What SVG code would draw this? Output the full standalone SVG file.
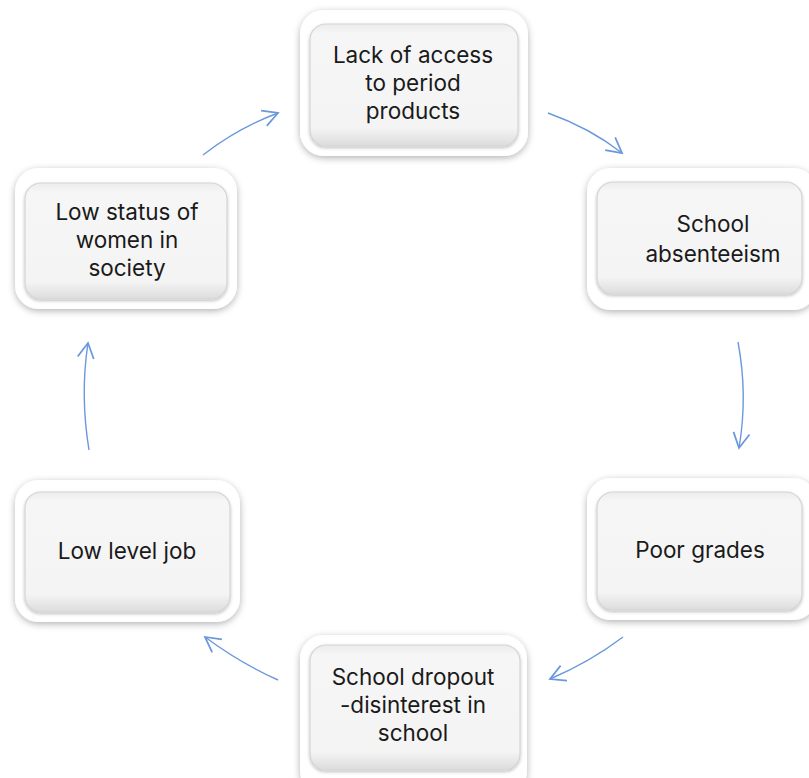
<svg xmlns="http://www.w3.org/2000/svg" width="809" height="778" viewBox="0 0 809 778">
<defs>
<style>
.outer{fill:#ffffff;filter:url(#sh);}
.inner{fill:url(#ig);stroke:#d4d4d4;stroke-width:1.2;filter:url(#ish);}
.t{font-family:Inter,"Open Sans",sans-serif;font-size:22.5px;fill:#1a1a1a;text-anchor:middle;}
.c{fill:none;stroke:#6a98dc;stroke-width:1.4;marker-end:url(#ah);}
</style>
<filter id="sh" x="-10%" y="-10%" width="120%" height="125%">
<feDropShadow dx="0" dy="2" stdDeviation="3.5" flood-color="#000" flood-opacity="0.3"/>
</filter>
<filter id="ish" x="-5%" y="-5%" width="110%" height="115%">
<feDropShadow dx="0" dy="1.5" stdDeviation="1.5" flood-color="#000" flood-opacity="0.25"/>
</filter>
<linearGradient id="ig" x1="0" y1="0" x2="0" y2="1">
<stop offset="0" stop-color="#ececec"/>
<stop offset="0.08" stop-color="#f6f6f6"/>
<stop offset="0.85" stop-color="#f4f4f4"/>
<stop offset="1" stop-color="#dcdcdc"/>
</linearGradient>
<marker id="ah" markerUnits="userSpaceOnUse" markerWidth="20" markerHeight="20" viewBox="-14 -8 16 16" refX="0" refY="0" orient="auto">
<path d="M-12,-6.5 L0,0 L-12,6.5" fill="none" stroke="#6a98dc" stroke-width="1.4"/>
</marker>
</defs>
<g id="connectors">
<path class="c" d="M203,155 Q238,128 278,113"/>
<path class="c" d="M548,113 Q590,128 622,153"/>
<path class="c" d="M738,342 Q748,395 739,448"/>
<path class="c" d="M623,637 Q590,662 550,679"/>
<path class="c" d="M278,680 Q240,663 205,637"/>
<path class="c" d="M89,450 Q80,395 88,343"/>
</g>
<g id="n1">
<rect class="outer" x="300" y="10" width="228" height="146" rx="24"/>
<rect class="inner" x="310" y="24" width="208" height="122" rx="16"/>
<text class="t" x="413" y="63">Lack of access</text>
<text class="t" x="413" y="91">to period</text>
<text class="t" x="413" y="119">products</text>
</g>
<g id="n2">
<rect class="outer" x="587" y="168" width="230" height="142" rx="24"/>
<rect class="inner" x="597" y="182" width="205" height="112" rx="16"/>
<text class="t" x="713" y="232">School</text>
<text class="t" x="713" y="262">absenteeism</text>
</g>
<g id="n3">
<rect class="outer" x="587" y="478" width="230" height="142" rx="24"/>
<rect class="inner" x="597" y="492" width="205" height="118" rx="16"/>
<text class="t" x="700" y="558">Poor grades</text>
</g>
<g id="n4">
<rect class="outer" x="300" y="635" width="227" height="160" rx="24"/>
<rect class="inner" x="310" y="645" width="210" height="125" rx="16"/>
<text class="t" x="413" y="685">School dropout</text>
<text class="t" x="413" y="713">-disinterest in</text>
<text class="t" x="413" y="741">school</text>
</g>
<g id="n5">
<rect class="outer" x="15" y="480" width="225" height="142" rx="24"/>
<rect class="inner" x="25" y="492" width="205" height="120" rx="16"/>
<text class="t" x="127" y="559">Low level job</text>
</g>
<g id="n6">
<rect class="outer" x="15" y="168" width="222" height="141" rx="24"/>
<rect class="inner" x="25" y="183" width="202" height="116" rx="16"/>
<text class="t" x="127" y="220">Low status of</text>
<text class="t" x="127" y="248">women in</text>
<text class="t" x="127" y="276">society</text>
</g>
</svg>
